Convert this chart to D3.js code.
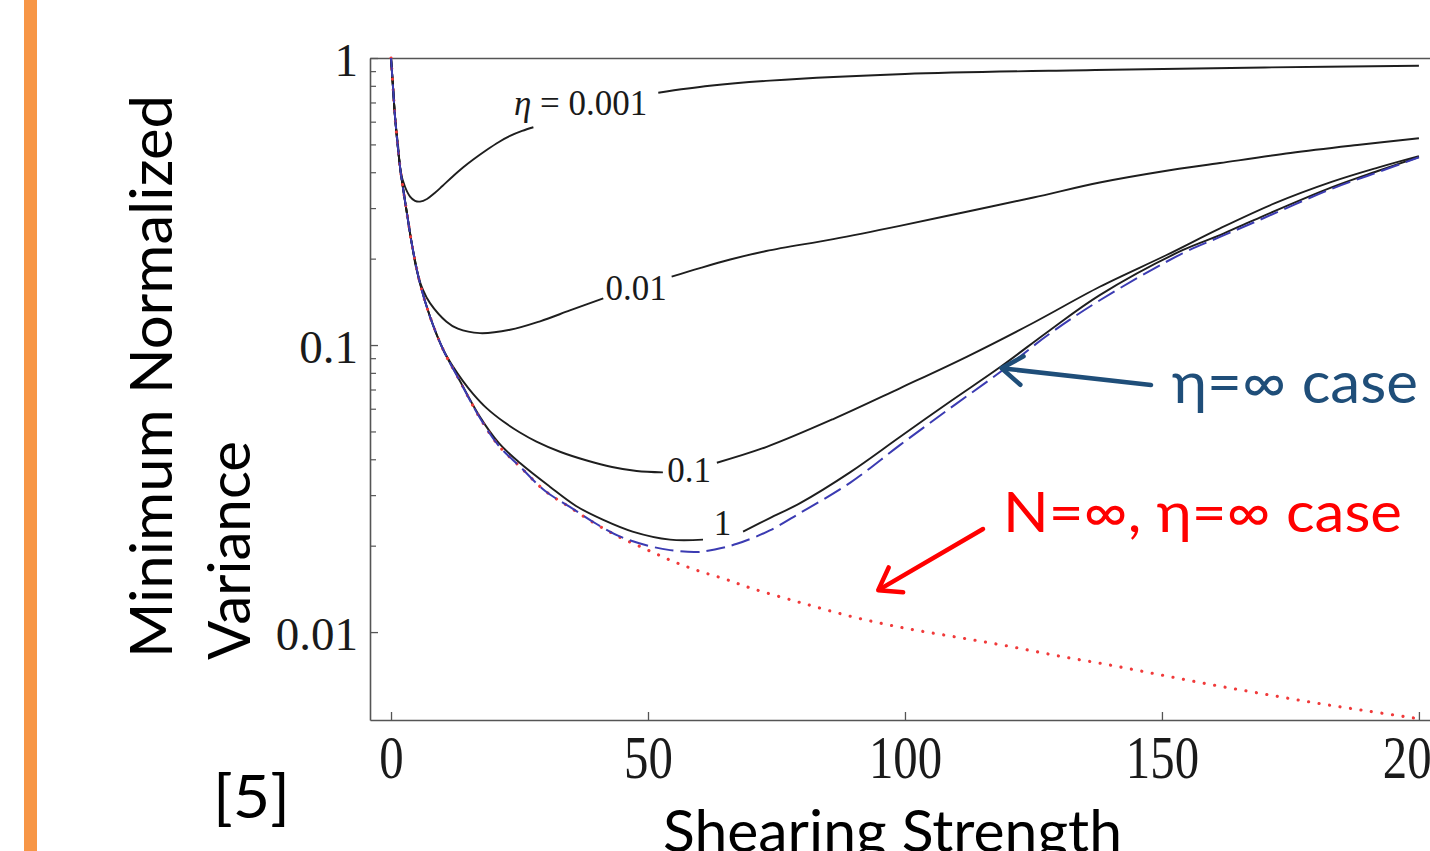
<!DOCTYPE html>
<html>
<head>
<meta charset="utf-8">
<script src="https://cdn.jsdelivr.net/npm/d3@7"></script>
<style>
  html, body { margin: 0; padding: 0; background: #ffffff; overflow: hidden; }
  svg { display: block; }
</style>
</head>
<body>
<svg id="chart" width="1430" height="851"></svg>
<script>
// ---------------- data ----------------
const xTicks = [0, 50, 100, 150, 200];
const yMajor = [1, 0.1, 0.01];
const yTickLabels = ["1", "0.1", "0.01"];
const yMinor = [0.9, 0.8, 0.7, 0.6, 0.5, 0.4, 0.3, 0.2,
                0.09, 0.08, 0.07, 0.06, 0.05, 0.04, 0.03, 0.02];

// [shearing strength, minimum normalized variance]
const eta0001 = [[0,1.0],[0.4,0.786],[0.78,0.624],[1.4,0.49],[1.89,0.40],[2.72,0.356],[3.7,0.329],
  [4.67,0.318],[5.64,0.316],[7,0.3227],[8.5,0.3386],[10,0.3581],[12,0.3865],[14,0.4153],[16,0.4429],
  [18.6,0.4781],[21,0.5098],[23.15,0.535],[25.5,0.5569],[27.7,0.5737],
  [52,0.757],[62,0.80],[73.7,0.834],[100,0.88],[137,0.908],[170,0.927],[200,0.94]];
const eta001 = [[0,1.0],[0.4,0.786],[0.78,0.624],[1.75,0.418],[2.39,0.347],[3.2,0.280],[4.03,0.226],
  [5.0,0.182],[6.2,0.156],[7.59,0.14],[10.8,0.1206],[13,0.114],[17.3,0.110],[23.15,0.113],[29,0.121],
  [34.8,0.132],[41.3,0.1455],
  [54.6,0.173],[60.1,0.1854],[66,0.1986],[73,0.2126],[86.05,0.234],[99,0.2602],[112,0.2913],
  [125,0.3266],[137.9,0.3683],[150,0.4023],[161.3,0.4306],[175,0.4667],[188,0.4975],[200,0.5252]];
const eta01 = [[0,1.0],[0.4,0.786],[0.78,0.624],[1.75,0.418],[2.39,0.347],[3.2,0.280],[4.03,0.226],
  [5.64,0.164],[7.59,0.1255],[10.18,0.0961],[12,0.0845],[14,0.0749],[16,0.0675],[18.6,0.0603],
  [22,0.0539],[25,0.0497],[28.3,0.0461],[33,0.0424],[38.1,0.0396],[43,0.0376],[47.8,0.0364],[52.9,0.0360],
  [63.4,0.0389],[73.1,0.0442],[86.05,0.05524],[99,0.0707],[112,0.0910],[125,0.1196],[137.9,0.1596],
  [150.9,0.2059],[161.3,0.255],[172,0.312],[183,0.370],[192,0.415],[200,0.455]];
const eta1 = [[0,1.0],[0.4,0.786],[0.78,0.624],[1.75,0.418],[2.39,0.347],[3.2,0.280],[4.03,0.226],
  [5.64,0.164],[7.59,0.1255],[10.18,0.0961],[13.1,0.0768],[17.3,0.0562],[21,0.0455],[25.1,0.0388],
  [30.9,0.0321],[36,0.0275],[41.3,0.0246],[47,0.0224],[54.3,0.0210],[60.7,0.0210],
  [68.5,0.0224],[73.7,0.02495],[79.6,0.02813],[89.3,0.0360],[99,0.0478],[108.8,0.0636],[118.6,0.084],
  [128,0.112],[137.9,0.1493],[154,0.214],[161.3,0.2416],[168,0.273],[183,0.354],[192,0.404],[200,0.452]];
const etaInf = [[0,1.0],[0.4,0.786],[0.78,0.624],[1.75,0.418],[2.39,0.347],[3.2,0.280],[4.03,0.226],
  [5.64,0.164],[7.59,0.1255],[10.18,0.0961],[13.1,0.0766],[17.3,0.0557],[21,0.0445],[25.1,0.0377],
  [30,0.031],[34.8,0.0273],[40,0.0238],[44.6,0.0215],[50,0.0200],[54.3,0.0193],[59.5,0.0190],
  [63,0.0194],[67.3,0.0203],[73.7,0.0226],[79.6,0.026],[89.3,0.0331],[99,0.0448],[108.8,0.0603],
  [118.6,0.0807],[128,0.109],[138,0.1435],[154,0.2087],[161.3,0.238],[168,0.268],[183,0.350],
  [192,0.400],[200,0.451]];
const nInfEtaInf = [[0,1.0],[0.4,0.786],[0.78,0.624],[1.75,0.418],[2.39,0.347],[3.2,0.280],[4.03,0.226],
  [5.64,0.164],[7.59,0.1255],[10.18,0.0961],[13.1,0.0766],[17.3,0.0557],[21,0.0445],[25.1,0.0377],
  [30,0.031],[34.8,0.0272],[40,0.0237],[45,0.0212],[50,0.0193],[55,0.0176],[60,0.0163],[65,0.0153],
  [70,0.01423],[80,0.01262],[90,0.01128],[100,0.01032],[110,0.00961],[120,0.00894],[130,0.00825],
  [140,0.00767],[150,0.00708],[160,0.00654],[170,0.00608],[180,0.00566],[190,0.00531],[200,0.00499]];

// curve labels: text, gap in the curve (x range), label anchor (x, y) in data units
const curveLabels = ["0.001", "0.01", "0.1", "1"];
const labelGaps = [[27.7, 52], [41.3, 54.6], [52.9, 63.4], [60.7, 68.5]];
const labelAnchorX = [36.9, 47.7, 58.0, 64.5];
const labelAnchorY = [0.633, 0.1435, 0.0334, 0.0218];

// ---------------- drawing ----------------
const svg = d3.select("#chart");
const x = d3.scaleLinear().domain([-4.09, 204.1]).range([370, 1440]);
const y = d3.scaleLog().domain([0.00494, 1]).range([720, 58]);

// orange side bar of the slide
svg.append("rect").attr("x", 24).attr("y", 0).attr("width", 13).attr("height", 851).attr("fill", "#F79646");

// clip for plot area
svg.append("clipPath").attr("id", "plotclip").append("rect")
  .attr("x", 370).attr("y", 56).attr("width", 1070).attr("height", 666);

const frameColor = "#555";
// bottom axis
const gx = svg.append("g").attr("transform", "translate(0,720)")
  .call(d3.axisBottom(x).tickValues(xTicks).tickSizeInner(-8).tickSizeOuter(0).tickFormat(d3.format("d")));
gx.select(".domain").attr("stroke", frameColor).attr("stroke-width", 1.6);
gx.selectAll(".tick line").attr("stroke", frameColor).attr("stroke-width", 1.3);
gx.selectAll(".tick text").attr("y", 58).attr("dy", 0)
  .attr("font-family", "'Liberation Serif', 'DejaVu Serif', serif").attr("font-size", 61)
  .attr("fill", "#1a1a1a").attr("transform", "scale(0.8,1)");

// top frame
const gt = svg.append("g").attr("transform", "translate(0,58)")
  .call(d3.axisTop(x).tickValues([]).tickSizeOuter(0));
gt.select(".domain").attr("stroke", frameColor).attr("stroke-width", 1.6);

// left axis, major ticks
const gy = svg.append("g").attr("transform", "translate(370,0)")
  .call(d3.axisLeft(y).tickValues(yMajor).tickSizeInner(-8).tickSizeOuter(0).tickPadding(12)
    .tickFormat(d => yTickLabels[yMajor.indexOf(d)]));
gy.select(".domain").attr("stroke", frameColor).attr("stroke-width", 1.6);
gy.selectAll(".tick line").attr("stroke", frameColor).attr("stroke-width", 1.3);
gy.selectAll(".tick text").attr("dy", "0.37em")
  .attr("font-family", "'Liberation Serif', 'DejaVu Serif', serif").attr("font-size", 47)
  .attr("fill", "#1a1a1a");

// left axis, minor ticks
const gym = svg.append("g").attr("transform", "translate(370,0)")
  .call(d3.axisLeft(y).tickValues(yMinor).tickSizeInner(-6).tickSizeOuter(0).tickFormat(""));
gym.select(".domain").remove();
gym.selectAll(".tick line").attr("stroke", frameColor).attr("stroke-width", 1.2);

// curves
const plot = svg.append("g").attr("clip-path", "url(#plotclip)");
const line = d3.line().x(d => x(d[0])).y(d => y(d[1])).curve(d3.curveCatmullRom.alpha(0.5));
function segments(s, gap) {
  if (!gap) return [s];
  return [s.filter(d => d[0] <= gap[0]), s.filter(d => d[0] >= gap[1])];
}
const blackSeries = [eta0001, eta001, eta01, eta1];
blackSeries.forEach((s, i) => {
  segments(s, labelGaps[i]).forEach(seg => {
    plot.append("path").datum(seg).attr("d", line)
      .attr("fill", "none").attr("stroke", "#1e1e1e").attr("stroke-width", 1.9);
  });
});
plot.append("path").datum(nInfEtaInf).attr("d", line)
  .attr("fill", "none").attr("stroke", "#f03a3a").attr("stroke-width", 3.1)
  .attr("stroke-linecap", "round").attr("stroke-dasharray", "0.1,10.5");
plot.append("path").datum(etaInf).attr("d", line)
  .attr("fill", "none").attr("stroke", "#3b3bb2").attr("stroke-width", 2)
  .attr("stroke-dasharray", "19,7");

// curve labels
const serif = "'Liberation Serif', 'DejaVu Serif', serif";
curveLabels.forEach((t, i) => {
  const txt = svg.append("text")
    .attr("x", x(labelAnchorX[i])).attr("y", y(labelAnchorY[i]))
    .attr("text-anchor", "middle").attr("font-family", serif)
    .attr("font-size", 35).attr("fill", "#1a1a1a");
  if (i === 0) {
    txt.append("tspan").attr("font-style", "italic").text("η");
    txt.append("tspan").text(" = " + t);
  } else {
    txt.text(t);
  }
});

// axis titles (slide text)
const sans = "Lato, 'Open Sans', 'DejaVu Sans', sans-serif";
svg.append("text").attr("transform", "translate(172,658) rotate(-90)")
  .attr("font-family", sans).attr("font-size", 58).attr("fill", "#000")
  .attr("textLength", 563).attr("lengthAdjust", "spacingAndGlyphs")
  .text("Minimum Normalized");
svg.append("text").attr("transform", "translate(250,660) rotate(-90)")
  .attr("font-family", sans).attr("font-size", 58).attr("fill", "#000")
  .attr("textLength", 219).attr("lengthAdjust", "spacingAndGlyphs")
  .text("Variance");
svg.append("text").attr("x", 663).attr("y", 852)
  .attr("font-family", sans).attr("font-size", 58).attr("fill", "#000")
  .attr("textLength", 459).attr("lengthAdjust", "spacingAndGlyphs")
  .text("Shearing Strength");
svg.append("text").attr("x", 213).attr("y", 818)
  .attr("font-family", sans).attr("font-size", 60).attr("fill", "#000")
  .attr("textLength", 77).attr("lengthAdjust", "spacingAndGlyphs")
  .text("[5]");

// annotations
const blue = "#1f4e79", red = "#ff0000";
svg.append("text").attr("x", 1172).attr("y", 403)
  .attr("font-family", sans).attr("font-size", 59).attr("fill", blue)
  .attr("textLength", 246).attr("lengthAdjust", "spacingAndGlyphs")
  .text("η=∞ case");
svg.append("text").attr("x", 1003).attr("y", 532)
  .attr("font-family", sans).attr("font-size", 57).attr("fill", red)
  .attr("textLength", 399).attr("lengthAdjust", "spacingAndGlyphs")
  .text("N=∞, η=∞ case");

function arrow(x1, y1, x2, y2, color, w) {
  const dx = x1 - x2, dy = y1 - y2, L = Math.hypot(dx, dy);
  const ux = dx / L, uy = dy / L, a = 35 * Math.PI / 180, len = 25;
  const r = (t) => [x2 + len * (ux * Math.cos(t) - uy * Math.sin(t)), y2 + len * (ux * Math.sin(t) + uy * Math.cos(t))];
  const p1 = r(a), p2 = r(-a);
  const g = svg.append("g").attr("stroke", color).attr("stroke-width", w).attr("fill", "none")
    .attr("stroke-linecap", "round").attr("stroke-linejoin", "round");
  g.append("line").attr("x1", x1).attr("y1", y1).attr("x2", x2 + ux * 2).attr("y2", y2 + uy * 2);
  g.append("path").attr("d", `M${p1[0]},${p1[1]}L${x2},${y2}L${p2[0]},${p2[1]}`);
}
arrow(1151, 385, x(118.8), y(0.083), blue, 4.5);
arrow(983, 529, x(94.8), y(0.014), red, 4.5);
</script>
</body>
</html>
